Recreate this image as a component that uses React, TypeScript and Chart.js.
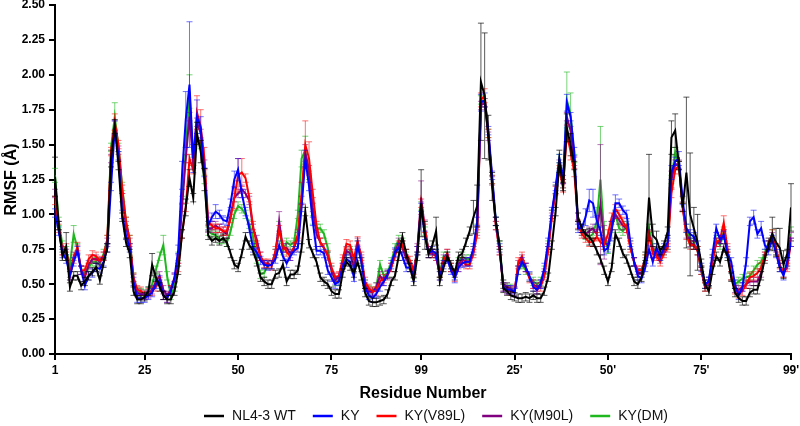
import React, { useEffect, useRef } from "react";
import { Chart, registerables } from "chart.js";

Chart.register(...registerables);

// Residue positions 1..198 (99 residues of chain A followed by 99 of chain B)
const RESIDUES: number[] = Array.from({ length: 198 }, (_, i) => i + 1);

const X_TICK_VALUES = [1, 25, 50, 75, 99, 124, 149, 174, 198];
const X_TICK_LABELS = ["1", "25", "50", "75", "99", "25'", "50'", "75'", "99'"];

const SERIES_NAMES = ["NL4-3 WT", "KY", "KY(V89L)", "KY(M90L)", "KY(DM)"];
const SERIES_COLORS = ["#000000", "#0000ff", "#ff0000", "#800080", "#1fb81f"];
const ERROR_COLORS = [
  "rgba(0,0,0,0.65)",
  "rgba(0,0,255,0.55)",
  "rgba(255,0,0,0.55)",
  "rgba(128,0,128,0.55)",
  "rgba(31,184,31,0.6)",
];

const WT = [
  1.27, 0.92, 0.70, 0.77, 0.48, 0.56, 0.56, 0.49, 0.52, 0.56,
  0.59, 0.62, 0.53, 0.65, 0.76, 1.40, 1.63, 1.35, 0.98, 0.80,
  0.72, 0.45, 0.39, 0.39, 0.41, 0.45, 0.64, 0.55, 0.48, 0.42,
  0.39, 0.39, 0.45, 0.60, 0.86, 1.05, 1.26, 1.12, 1.58, 1.45,
  1.25, 0.85, 0.81, 0.83, 0.81, 0.83, 0.80, 0.72, 0.64, 0.62,
  0.72, 0.84, 0.78, 0.74, 0.66, 0.55, 0.52, 0.50, 0.50, 0.57,
  0.58, 0.64, 0.52, 0.57, 0.57, 0.60, 0.76, 1.02, 0.79, 0.72,
  0.66, 0.55, 0.52, 0.50, 0.45, 0.43, 0.43, 0.58, 0.66, 0.63,
  0.58, 0.66, 0.56, 0.44, 0.38, 0.37, 0.37, 0.38, 0.39, 0.43,
  0.52, 0.56, 0.70, 0.84, 0.72, 0.62, 0.52, 0.70, 1.08, 0.85,
  0.72, 0.78, 0.88, 0.52, 0.62, 0.70, 0.64, 0.58, 0.70, 0.72,
  0.80, 0.88, 0.98, 1.06, 1.95, 1.85, 1.55, 1.20, 0.95, 0.78,
  0.47, 0.45, 0.42, 0.41, 0.40, 0.40, 0.41, 0.40, 0.42, 0.40,
  0.40, 0.45, 0.55, 0.78, 1.02, 1.38, 1.20, 1.62, 1.50, 1.35,
  0.98, 0.90, 0.86, 0.84, 0.80, 0.74, 0.68, 0.60, 0.52, 0.62,
  0.86, 0.80, 0.72, 0.68, 0.60, 0.52, 0.50, 0.55, 0.70, 1.12,
  0.85, 0.82, 0.74, 0.78, 0.88, 1.55, 1.60, 1.35, 1.05, 1.30,
  1.00, 0.90, 0.80, 0.65, 0.50, 0.45, 0.60, 0.70, 0.66, 0.76,
  0.70, 0.55, 0.44, 0.40, 0.38, 0.38, 0.44, 0.46, 0.46, 0.56,
  0.68, 0.78, 0.86, 0.80, 0.76, 0.64, 0.72, 1.05,
];

const KY = [
  1.01, 0.88, 0.72, 0.68, 0.56, 0.66, 0.74, 0.60, 0.49, 0.56,
  0.58, 0.62, 0.61, 0.66, 0.76, 1.20, 1.62, 1.42, 1.00, 0.85,
  0.76, 0.52, 0.40, 0.40, 0.40, 0.42, 0.44, 0.50, 0.53, 0.42,
  0.40, 0.45, 0.55, 0.75, 1.28, 1.68, 1.93, 1.40, 1.70, 1.62,
  1.30, 0.92, 0.98, 1.02, 1.00, 0.96, 0.95, 1.08, 1.25, 1.32,
  1.15, 1.02, 0.90, 0.76, 0.73, 0.67, 0.64, 0.63, 0.64, 0.68,
  0.78, 0.70, 0.65, 0.70, 0.74, 0.76, 1.05, 1.40, 1.20, 0.95,
  0.74, 0.74, 0.72, 0.60, 0.55, 0.50, 0.52, 0.62, 0.68, 0.66,
  0.55, 0.78, 0.66, 0.48, 0.42, 0.40, 0.43, 0.48, 0.52, 0.57,
  0.64, 0.73, 0.76, 0.70, 0.62, 0.62, 0.55, 0.74, 1.05, 0.85,
  0.72, 0.74, 0.72, 0.56, 0.64, 0.68, 0.60, 0.54, 0.62, 0.65,
  0.66, 0.66, 0.76, 0.95, 1.80, 1.82, 1.60, 1.28, 0.95, 0.76,
  0.48, 0.46, 0.46, 0.44, 0.60, 0.66, 0.62, 0.56, 0.48, 0.46,
  0.50, 0.62, 0.80, 1.02, 1.20, 1.40, 1.25, 1.80, 1.70, 1.45,
  0.90, 0.90, 0.98, 1.10, 1.08, 0.96, 0.88, 0.74, 0.76, 0.88,
  1.08, 1.08, 1.03, 1.00, 0.80, 0.66, 0.56, 0.54, 0.62, 0.75,
  0.66, 0.76, 0.70, 0.76, 0.80, 1.30, 1.38, 1.40, 1.10, 0.90,
  0.86, 0.84, 0.78, 0.62, 0.50, 0.52, 0.72, 0.90, 0.82, 0.85,
  0.72, 0.66, 0.50, 0.42, 0.48, 0.66, 0.95, 0.98, 0.86, 0.90,
  0.78, 0.74, 0.82, 0.72, 0.62, 0.56, 0.66, 0.80,
];

const KY_V89L = [
  1.10, 0.90, 0.74, 0.76, 0.56, 0.68, 0.77, 0.60, 0.60, 0.68,
  0.71, 0.70, 0.67, 0.70, 0.82, 1.45, 1.66, 1.50, 1.18, 0.95,
  0.82, 0.55, 0.46, 0.45, 0.42, 0.44, 0.45, 0.48, 0.52, 0.42,
  0.40, 0.46, 0.55, 0.62, 0.86, 1.05, 1.40, 1.32, 1.73, 1.63,
  1.40, 0.95, 0.92, 0.90, 0.90, 0.88, 0.88, 0.97, 1.12, 1.28,
  1.30, 1.26, 1.12, 0.92, 0.78, 0.70, 0.65, 0.65, 0.63, 0.74,
  0.89, 0.78, 0.73, 0.70, 0.77, 0.86, 1.15, 1.50, 1.40, 1.15,
  0.92, 0.80, 0.76, 0.71, 0.62, 0.55, 0.56, 0.68, 0.79, 0.78,
  0.68, 0.81, 0.70, 0.52, 0.47, 0.45, 0.45, 0.52, 0.54, 0.57,
  0.62, 0.70, 0.78, 0.78, 0.72, 0.67, 0.60, 0.74, 1.08, 0.90,
  0.72, 0.72, 0.70, 0.58, 0.66, 0.72, 0.62, 0.55, 0.62, 0.66,
  0.64, 0.64, 0.72, 0.86, 1.82, 1.85, 1.58, 1.25, 0.92, 0.74,
  0.48, 0.46, 0.45, 0.44, 0.66, 0.70, 0.62, 0.54, 0.50, 0.46,
  0.48, 0.56, 0.74, 0.98, 1.17, 1.32, 1.19, 1.58, 1.45, 1.30,
  0.93, 0.86, 0.83, 0.80, 0.80, 0.84, 0.80, 0.78, 0.86, 0.98,
  1.04, 1.00, 0.95, 0.90, 0.76, 0.66, 0.60, 0.60, 0.68, 0.85,
  0.72, 0.70, 0.66, 0.72, 0.76, 1.15, 1.32, 1.35, 1.05, 0.85,
  0.78, 0.78, 0.74, 0.60, 0.48, 0.50, 0.66, 0.80, 0.82, 0.94,
  0.76, 0.56, 0.46, 0.43, 0.45, 0.50, 0.55, 0.56, 0.58, 0.62,
  0.70, 0.78, 0.86, 0.76, 0.64, 0.58, 0.62, 0.80,
];

const KY_M90L = [
  1.15, 0.92, 0.74, 0.72, 0.58, 0.70, 0.75, 0.60, 0.55, 0.64,
  0.68, 0.68, 0.66, 0.70, 0.80, 1.40, 1.64, 1.46, 1.12, 0.92,
  0.80, 0.54, 0.44, 0.43, 0.42, 0.43, 0.46, 0.52, 0.56, 0.46,
  0.42, 0.46, 0.54, 0.68, 1.05, 1.40, 1.70, 1.36, 1.66, 1.58,
  1.36, 0.90, 0.90, 0.92, 0.90, 0.88, 0.86, 1.00, 1.12, 1.15,
  1.18, 1.15, 1.10, 0.90, 0.82, 0.70, 0.64, 0.64, 0.64, 0.72,
  0.95, 0.76, 0.76, 0.72, 0.76, 0.84, 1.10, 1.44, 1.32, 1.05,
  0.86, 0.80, 0.76, 0.70, 0.60, 0.53, 0.55, 0.66, 0.74, 0.72,
  0.62, 0.80, 0.68, 0.50, 0.45, 0.44, 0.48, 0.56, 0.52, 0.56,
  0.62, 0.72, 0.80, 0.76, 0.68, 0.64, 0.58, 0.76, 1.12, 0.90,
  0.74, 0.72, 0.70, 0.56, 0.68, 0.72, 0.62, 0.56, 0.64, 0.68,
  0.66, 0.66, 0.74, 0.88, 1.78, 1.80, 1.56, 1.24, 0.92, 0.74,
  0.50, 0.48, 0.46, 0.45, 0.64, 0.68, 0.62, 0.55, 0.50, 0.48,
  0.50, 0.58, 0.76, 1.00, 1.18, 1.36, 1.22, 1.70, 1.60, 1.38,
  0.92, 0.88, 0.86, 0.88, 0.90, 0.86, 1.07, 0.80, 0.78, 0.92,
  1.00, 0.96, 0.92, 0.90, 0.78, 0.66, 0.58, 0.58, 0.66, 0.86,
  0.74, 0.72, 0.68, 0.74, 0.78, 1.25, 1.36, 1.36, 1.06, 0.86,
  0.80, 0.78, 0.74, 0.60, 0.48, 0.52, 0.68, 0.80, 0.80, 0.86,
  0.74, 0.56, 0.47, 0.46, 0.48, 0.50, 0.52, 0.52, 0.52, 0.58,
  0.70, 0.80, 0.84, 0.74, 0.62, 0.58, 0.64, 0.84,
];

const KY_DM = [
  1.28, 0.95, 0.78, 0.74, 0.64, 0.86, 0.76, 0.60, 0.58, 0.62,
  0.66, 0.66, 0.64, 0.72, 0.82, 1.48, 1.70, 1.48, 1.20, 0.95,
  0.82, 0.55, 0.45, 0.44, 0.43, 0.45, 0.50, 0.60, 0.70, 0.78,
  0.56, 0.42, 0.48, 0.70, 1.10, 1.45, 1.88, 1.38, 1.55, 1.50,
  1.25, 0.88, 0.86, 0.85, 0.82, 0.82, 0.80, 0.88, 1.00, 1.06,
  1.04, 1.00, 0.93, 0.84, 0.68, 0.57, 0.58, 0.64, 0.64, 0.72,
  0.90, 0.74, 0.80, 0.78, 0.80, 1.00, 1.40, 1.46, 1.28, 0.96,
  0.90, 0.90, 0.86, 0.76, 0.60, 0.52, 0.52, 0.64, 0.72, 0.74,
  0.62, 0.78, 0.66, 0.50, 0.46, 0.45, 0.48, 0.64, 0.56, 0.58,
  0.66, 0.76, 0.82, 0.80, 0.70, 0.64, 0.57, 0.74, 1.06, 0.88,
  0.74, 0.72, 0.72, 0.58, 0.70, 0.70, 0.62, 0.56, 0.66, 0.70,
  0.68, 0.68, 0.74, 0.90, 1.82, 1.80, 1.58, 1.25, 0.95, 0.78,
  0.50, 0.48, 0.47, 0.45, 0.60, 0.64, 0.60, 0.55, 0.52, 0.50,
  0.52, 0.60, 0.78, 1.00, 1.18, 1.40, 1.22, 1.82, 1.72, 1.40,
  0.92, 0.88, 0.85, 0.84, 0.86, 0.95, 1.25, 0.85, 0.75, 0.90,
  1.00, 0.90, 0.88, 0.92, 0.78, 0.66, 0.58, 0.58, 0.68, 0.90,
  0.76, 0.72, 0.70, 0.74, 0.78, 1.25, 1.45, 1.35, 1.05, 0.90,
  0.82, 0.80, 0.74, 0.60, 0.48, 0.52, 0.68, 0.82, 0.78, 0.88,
  0.72, 0.56, 0.50, 0.52, 0.54, 0.55, 0.56, 0.60, 0.64, 0.66,
  0.72, 0.80, 0.86, 0.74, 0.62, 0.58, 0.66, 0.86,
];

// Error bars (SEM): typical size per series, plus the residues where the bar is visibly larger
const WT_ERR_TYPICAL = 0.03;
const WT_ERR_LARGE: [number, number][] = [
  [1, 0.14], [4, 0.10], [16, 0.06], [17, 0.05], [27, 0.08], [36, 0.06], [37, 0.06],
  [39, 0.08], [40, 0.08], [41, 0.08], [99, 0.24], [100, 0.10], [103, 0.10], [113, 0.12],
  [114, 0.15], [115, 0.42], [116, 0.45], [117, 0.16], [118, 0.10], [136, 0.08], [138, 0.10],
  [139, 0.08], [144, 0.06], [160, 0.31], [161, 0.08], [162, 0.06], [166, 0.12], [167, 0.12],
  [170, 0.54], [171, 0.44], [172, 0.15], [173, 0.20], [193, 0.12], [194, 0.10], [195, 0.14],
  [196, 0.10], [198, 0.17],
];
const KY_ERR_TYPICAL = 0.03;
const KY_ERR_LARGE: [number, number][] = [
  [17, 0.05], [35, 0.10], [36, 0.20], [37, 0.45], [38, 0.10], [39, 0.12], [40, 0.08],
  [44, 0.05], [49, 0.06], [50, 0.08], [68, 0.06], [115, 0.06], [116, 0.05], [138, 0.06],
  [143, 0.06], [144, 0.08], [145, 0.10], [150, 0.07], [151, 0.06], [166, 0.05], [168, 0.05],
  [188, 0.05], [190, 0.05],
];
const V89L_ERR_TYPICAL = 0.03;
const V89L_ERR_LARGE: [number, number][] = [
  [17, 0.06], [39, 0.12], [40, 0.12], [41, 0.08], [49, 0.08], [50, 0.12], [51, 0.10],
  [67, 0.08], [68, 0.17], [69, 0.12], [115, 0.05], [116, 0.05], [138, 0.06], [139, 0.06],
  [180, 0.05],
];
const M90L_ERR_TYPICAL = 0.03;
const M90L_ERR_LARGE: [number, number][] = [
  [61, 0.07], [68, 0.06], [99, 0.12], [100, 0.06], [147, 0.43], [148, 0.12], [166, 0.06],
];
const DM_ERR_TYPICAL = 0.03;
const DM_ERR_LARGE: [number, number][] = [
  [1, 0.05], [6, 0.06], [17, 0.10], [30, 0.07], [37, 0.12], [61, 0.05], [67, 0.06],
  [68, 0.10], [138, 0.20], [139, 0.15], [146, 0.10], [147, 0.38], [148, 0.10], [198, 0.05],
];

const FONT = '"Liberation Sans", Arial, Helvetica, sans-serif';

function errorArray(typical: number, large: [number, number][]): number[] {
  const arr = RESIDUES.map(() => typical);
  large.forEach(([res, e]) => {
    arr[res - 1] = e;
  });
  return arr;
}

const errorBarPlugin = {
  id: "errorBars",
  afterDatasetDraw(chart: any, args: any) {
    const ds = chart.data.datasets[args.index];
    const errs: number[] = ds.errors;
    if (!errs) return;
    const yScale = chart.scales.y;
    const ctx = chart.ctx;
    ctx.save();
    ctx.strokeStyle = ds.errorColor;
    ctx.lineWidth = 1;
    args.meta.data.forEach((pt: any, k: number) => {
      const v = ds.data[k].y;
      const e = errs[k];
      const x = pt.x;
      const yt = yScale.getPixelForValue(v + e);
      const yb = yScale.getPixelForValue(v - e);
      ctx.beginPath();
      ctx.moveTo(x, yt);
      ctx.lineTo(x, yb);
      ctx.moveTo(x - 3, yt);
      ctx.lineTo(x + 3, yt);
      ctx.moveTo(x - 3, yb);
      ctx.lineTo(x + 3, yb);
      ctx.stroke();
    });
    ctx.restore();
  },
};

const legendPlugin = {
  id: "bottomLegend",
  afterDraw(chart: any) {
    const ctx = chart.ctx;
    ctx.save();
    ctx.font = `14px ${FONT}`;
    ctx.textBaseline = "middle";
    const sample = 20;
    const gapText = 8;
    const gapItem = 17;
    let total = 0;
    SERIES_NAMES.forEach((n, k) => {
      total += sample + gapText + ctx.measureText(n).width + (k < SERIES_NAMES.length - 1 ? gapItem : 0);
    });
    let x = 436 - total / 2;
    const y = 416;
    SERIES_NAMES.forEach((name, k) => {
      ctx.strokeStyle = SERIES_COLORS[k];
      ctx.lineWidth = 2.5;
      ctx.beginPath();
      ctx.moveTo(x, y);
      ctx.lineTo(x + sample, y);
      ctx.stroke();
      x += sample + gapText;
      ctx.fillStyle = "#111";
      ctx.fillText(name, x, y);
      x += ctx.measureText(name).width + gapItem;
    });
    ctx.restore();
  },
};

export default function App() {
  const ref = useRef<HTMLCanvasElement | null>(null);

  useEffect(() => {
    if (!ref.current) return;
    const values = [WT, KY, KY_V89L, KY_M90L, KY_DM];
    const errs = [
      errorArray(WT_ERR_TYPICAL, WT_ERR_LARGE),
      errorArray(KY_ERR_TYPICAL, KY_ERR_LARGE),
      errorArray(V89L_ERR_TYPICAL, V89L_ERR_LARGE),
      errorArray(M90L_ERR_TYPICAL, M90L_ERR_LARGE),
      errorArray(DM_ERR_TYPICAL, DM_ERR_LARGE),
    ];
    const datasets: any[] = SERIES_NAMES.map((name, k) => ({
      label: name,
      data: RESIDUES.map((r, i) => ({ x: r, y: values[k][i] })),
      borderColor: SERIES_COLORS[k],
      backgroundColor: SERIES_COLORS[k],
      borderWidth: 2,
      pointRadius: 0,
      pointHoverRadius: 0,
      tension: 0,
      fill: false,
      errors: errs[k],
      errorColor: ERROR_COLORS[k],
    }));

    const chart = new Chart(ref.current, {
      type: "line",
      data: { datasets },
      plugins: [errorBarPlugin, legendPlugin],
      options: {
        responsive: false,
        animation: false,
        layout: { padding: { top: 5, right: 9, bottom: 0, left: 0 } },
        plugins: { legend: { display: false }, tooltip: { enabled: false } },
        scales: {
          x: {
            type: "linear",
            min: 1,
            max: 198,
            afterBuildTicks: (s: any) => {
              s.ticks = X_TICK_VALUES.map((v) => ({ value: v }));
            },
            afterFit: (s: any) => {
              s.height = 72;
              s.paddingLeft = 0;
              s.paddingRight = 0;
            },
            ticks: {
              autoSkip: false,
              maxRotation: 0,
              padding: 3,
              color: "#000",
              font: { family: FONT, size: 12, weight: "bold" },
              callback: (_v: any, idx: number) => X_TICK_LABELS[idx],
            },
            grid: { drawOnChartArea: false, drawTicks: true, tickLength: 6, color: "#000", lineWidth: 2 },
            border: { display: true, color: "#000", width: 2 },
            title: {
              display: true,
              text: "Residue Number",
              color: "#000",
              font: { family: FONT, size: 16, weight: "bold" },
              padding: { top: 0, bottom: 23 },
            },
          },
          y: {
            min: 0,
            max: 2.5,
            afterFit: (s: any) => {
              s.width = 55;
              s.paddingTop = 0;
              s.paddingBottom = 0;
            },
            ticks: {
              stepSize: 0.25,
              padding: 4,
              color: "#000",
              font: { family: FONT, size: 12, weight: "bold" },
              callback: (v: any) => Number(v).toFixed(2),
            },
            grid: { drawOnChartArea: false, drawTicks: true, tickLength: 6, color: "#000", lineWidth: 2 },
            border: { display: true, color: "#000", width: 2 },
            title: {
              display: true,
              text: "RMSF (Å)",
              color: "#000",
              font: { family: FONT, size: 16, weight: "bold" },
              padding: { top: 2, bottom: 0 },
            },
          },
        },
      } as any,
    });
    return () => chart.destroy();
  }, []);

  return (
    <div style={{ position: "absolute", left: 0, top: 0, width: 800, height: 426, background: "#fff" }}>
      <canvas ref={ref} width={800} height={426} style={{ display: "block" }} />
    </div>
  );
}
